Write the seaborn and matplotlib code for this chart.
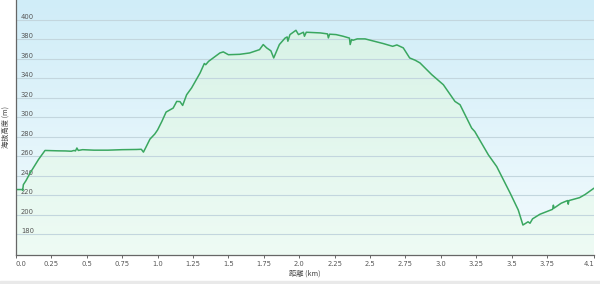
import numpy as np
import pandas as pd
import matplotlib
matplotlib.use("Agg")
import matplotlib.pyplot as plt
import seaborn as sns
from matplotlib.colors import LinearSegmentedColormap

# ---- data (distance km, elevation m) ----
distance_km = [0.0, 0.045, 0.047, 0.052, 0.07, 0.1, 0.13, 0.16, 0.19, 0.205, 0.25, 0.3, 0.35,
               0.39, 0.41, 0.42, 0.43, 0.44, 0.47, 0.55, 0.65, 0.75, 0.85, 0.885, 0.9, 0.92,
               0.946, 0.98, 1.0, 1.03, 1.06, 1.11, 1.135, 1.158, 1.177, 1.205, 1.24, 1.3,
               1.33, 1.34, 1.36, 1.44, 1.464, 1.5, 1.58, 1.65, 1.72, 1.746, 1.77, 1.8, 1.82,
               1.86, 1.9, 1.915, 1.92, 1.935, 1.977, 1.995, 2.03, 2.037, 2.05, 2.15, 2.2,
               2.206, 2.215, 2.26, 2.31, 2.355, 2.36, 2.37, 2.38, 2.41, 2.465, 2.594, 2.66,
               2.69, 2.735, 2.78, 2.82, 2.853, 2.936, 3.018, 3.1, 3.136, 3.218, 3.24, 3.336,
               3.395, 3.49, 3.547, 3.58, 3.6, 3.616, 3.63, 3.648, 3.7, 3.79, 3.795, 3.8, 3.85,
               3.895, 3.9, 3.905, 3.98, 4.02, 4.082]
elevation_m = [226, 226, 225, 231, 235, 243, 250, 257, 263, 266, 265.8, 265.6, 265.5,
               265.2, 266, 265.5, 268.5, 266, 266.8, 266.3, 266.3, 266.8, 267, 267.2, 264.3, 270,
               277.6, 282.8, 287, 295.7, 305.3, 309.4, 316.2, 316, 312.1, 323, 330, 345.3,
               355, 353.8, 357.2, 365.8, 366.9, 364, 364.4, 365.8, 369.2, 374.4, 371, 368, 360.7,
               374.4, 381, 382.2, 377.8, 384.6, 389, 384.6, 387, 382.9, 387, 386.3, 385.3,
               381.2, 385, 384.6, 382.9, 381, 374.4, 379.5, 378.8, 380.2, 380.2, 375.4, 372.6,
               374, 371, 360.7, 358.3, 355.6, 343.6, 333.3, 316.2, 312.8, 288.9, 285.4, 261.5,
               249.5, 222.3, 205.1, 189.7, 191.5, 193, 191.5, 196, 200.7, 205.8, 210, 207, 212,
               214.7, 211, 214.7, 217.7, 221, 227.4]

x_ticks = [0.0, 0.25, 0.5, 0.75, 1.0, 1.25, 1.5, 1.75, 2.0, 2.25, 2.5, 2.75, 3.0, 3.25, 3.5, 3.75, 4.082]
x_tick_labels = ["0.0", "0.25", "0.5", "0.75", "1.0", "1.25", "1.5", "1.75", "2.0", "2.25",
                 "2.5", "2.75", "3.0", "3.25", "3.5", "3.75", "4.1"]
y_ticks = [180, 200, 220, 240, 260, 280, 300, 320, 340, 360, 380, 400]
x_label = "距離 (km)"
y_label = "海抜高度 (m)"

df = pd.DataFrame({"distance": distance_km, "elevation": elevation_m})

sns.set_style("white")
plt.rcParams["font.family"] = ["DejaVu Sans"]

fig = plt.figure(figsize=(6, 2.84), dpi=100)
fig.patch.set_facecolor("white")
# gray strip at bottom
fig.patches.append(plt.Rectangle((0, 0), 1, 3.5 / 284, transform=fig.transFigure,
                                 color="#e9e9e9", zorder=0))

ax = fig.add_axes([16 / 600, 29 / 284, 578 / 600, 255 / 284])
ax.set_axisbelow(False)
xmin, xmax = 0.0, 4.082
ymin, ymax = 159.0, 420.0
ax.set_xlim(xmin, xmax)
ax.set_ylim(ymin, ymax)

# background gradient
grad = np.linspace(0, 1, 256).reshape(-1, 1)
bg_cmap = LinearSegmentedColormap.from_list("bg", ["#d0edf8", "#f3fbfd"])
ax.imshow(grad, aspect="auto", cmap=bg_cmap, extent=[xmin, xmax, ymin, ymax],
          origin="upper", zorder=0, interpolation="bicubic")

# filled area gradient clipped to the profile
poly = ax.fill_between(df["distance"], df["elevation"], ymin, color="none", lw=0, zorder=1)
fill_cmap = LinearSegmentedColormap.from_list("fill", ["#d6f2e6", "#eefbf4"])
im = ax.imshow(grad, aspect="auto", cmap=fill_cmap, extent=[xmin, xmax, ymin, ymax],
               origin="upper", zorder=1, interpolation="bicubic")
path = poly.get_paths()[0]
im.set_clip_path(path, transform=ax.transData)

# grid
for yv in y_ticks:
    ax.axhline(yv, color="#c3d6de", lw=0.8, zorder=2)

sns.lineplot(data=df, x="distance", y="elevation", ax=ax, color="#3aa760", lw=1.1,
             zorder=3, estimator=None, sort=False)

ax.set_xlim(xmin, xmax)
ax.set_ylim(ymin, ymax)

for side in ["top", "right"]:
    ax.spines[side].set_visible(False)
for side in ["left", "bottom"]:
    ax.spines[side].set_color("#666666")
    ax.spines[side].set_linewidth(0.9)
    ax.spines[side].set_zorder(4)

ax.set_xticks(x_ticks)
ax.set_xticklabels(x_tick_labels)
ax.tick_params(axis="x", direction="out", length=2.5, width=0.7, color="#666666",
               labelsize=4.9, labelcolor="#555555", pad=1.6, bottom=True)
xl = ax.get_xticklabels()
xl[0].set_ha("left")
xl[-1].set_ha("right")

ax.set_yticks(y_ticks)
ax.set_yticklabels([str(v) for v in y_ticks])
ax.tick_params(axis="y", length=0, labelsize=4.9, labelcolor="#555555", pad=-3.5, left=True)
for t in ax.get_yticklabels():
    t.set_ha("left")
    t.set_va("bottom")

ax.set_xlabel(x_label, fontsize=5.2, color="#444444", labelpad=2,
              family=["Noto Sans CJK JP", "DejaVu Sans"])
ax.set_ylabel(y_label, fontsize=5.2, color="#444444", labelpad=1,
              family=["Noto Sans CJK JP", "DejaVu Sans"])
ax.yaxis.set_label_coords(-6 / 578, 0.5)

fig.savefig("out.png", dpi=100, facecolor="white")
